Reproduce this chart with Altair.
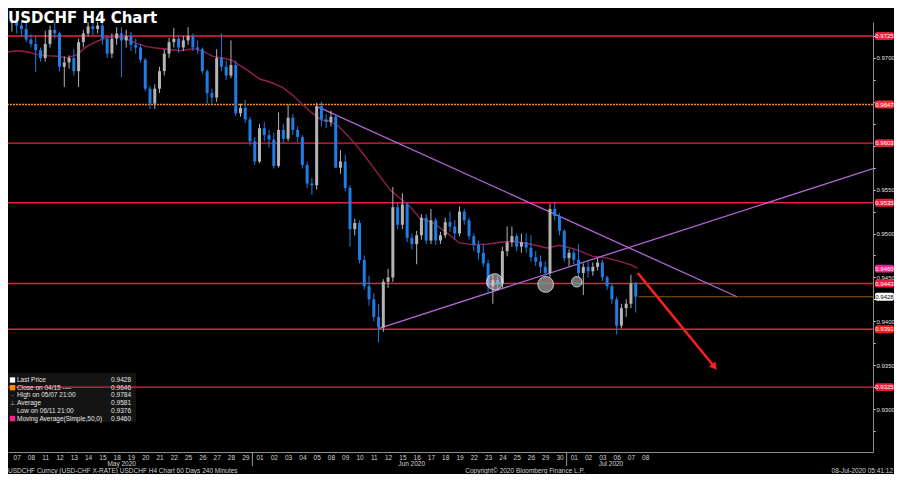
import altair as alt
import pandas as pd

# ---------------- data ----------------
day_labels = ["07", "08", "11", "12", "13", "14", "15", "18", "19", "20", "21", "22", "25", "26", "27", "28", "29",
              "01", "02", "03", "04", "05", "08", "09", "10", "11", "12", "15", "16", "17", "18", "19", "22", "23",
              "24", "25", "26", "29", "30",
              "01", "02", "03", "06", "07", "08"]
month_labels = ["May 2020", "Jun 2020", "Jul 2020"]
month_pos = [7.35, 27.65, 41.6]
month_breaks = [16.5, 38.5]

first_open = 0.9740
close = [0.9748, 0.9737, 0.9733, 0.9721, 0.9716, 0.9709, 0.9700, 0.9716, 0.9732, 0.9728, 0.9690, 0.9695,
         0.9700, 0.9685, 0.9718, 0.9728, 0.9736, 0.9733, 0.9737, 0.9722, 0.9705, 0.9722, 0.9728, 0.9720,
         0.9725, 0.9715, 0.9712, 0.9698, 0.9665, 0.9648, 0.9665, 0.9685, 0.9705, 0.9718, 0.9722, 0.9712,
         0.9720, 0.9725, 0.9712, 0.9710, 0.9685, 0.9660, 0.9655, 0.9700, 0.9690, 0.9680, 0.9692, 0.9637,
         0.9643, 0.9630, 0.9605, 0.9582, 0.9620, 0.9612, 0.9607, 0.9577, 0.9618, 0.9608, 0.9632, 0.9618,
         0.9610, 0.9578, 0.9557, 0.9555, 0.9645, 0.9630, 0.9627, 0.9633, 0.9575, 0.9582, 0.9552, 0.9505,
         0.9512, 0.9470, 0.9440, 0.9425, 0.9405, 0.9393, 0.9445, 0.9450, 0.9530, 0.9510, 0.9533, 0.9495,
         0.9488, 0.9498, 0.9518, 0.9492, 0.9515, 0.9492, 0.9498, 0.9513, 0.9508, 0.9500, 0.9525, 0.9515,
         0.9497, 0.9487, 0.9478, 0.9466, 0.9440, 0.9447, 0.9443, 0.9480, 0.9490, 0.9497, 0.9485, 0.9490,
         0.9484, 0.9473, 0.9468, 0.9462, 0.9455, 0.9528, 0.9520, 0.9503, 0.9472, 0.9478, 0.9470, 0.9455,
         0.9462, 0.9457, 0.9462, 0.9467, 0.9450, 0.9440, 0.9425, 0.9395, 0.9415, 0.9420, 0.9443, 0.9428]
high = [0.9784, 0.9755, 0.9745, 0.9740, 0.9727, 0.9725, 0.9712, 0.9731, 0.9737, 0.9745, 0.9730, 0.9702,
        0.9703, 0.9710, 0.9722, 0.9732, 0.9750, 0.9748, 0.9745, 0.9740, 0.9725, 0.9728, 0.9735, 0.9735,
        0.9732, 0.9730, 0.9722, 0.9716, 0.9700, 0.9668, 0.9670, 0.9690, 0.9710, 0.9723, 0.9734, 0.9725,
        0.9725, 0.9735, 0.9728, 0.9720, 0.9712, 0.9687, 0.9665, 0.9710, 0.9728, 0.9697, 0.9720, 0.9697,
        0.9648, 0.9652, 0.9633, 0.9610, 0.9625, 0.9627, 0.9618, 0.9615, 0.9638, 0.9625, 0.9647, 0.9636,
        0.9622, 0.9612, 0.9582, 0.9563, 0.9649, 0.9650, 0.9636, 0.9640, 0.9635, 0.9595, 0.9590, 0.9555,
        0.9517, 0.9515, 0.9475, 0.9452, 0.9432, 0.9420, 0.9448, 0.9460, 0.9553, 0.9535, 0.9546, 0.9536,
        0.9500, 0.9503, 0.9522, 0.9522, 0.9528, 0.9518, 0.9502, 0.9518, 0.9525, 0.9515, 0.9531, 0.9528,
        0.9518, 0.9500, 0.9492, 0.9488, 0.9470, 0.9453, 0.9452, 0.9485, 0.9508, 0.9508, 0.9500, 0.9500,
        0.9500, 0.9498, 0.9480, 0.9475, 0.9468, 0.9534, 0.9536, 0.9523, 0.9505, 0.9482, 0.9482, 0.9488,
        0.9466, 0.9468, 0.9467, 0.9472, 0.9470, 0.9452, 0.9443, 0.9428, 0.9420, 0.9425, 0.9453, 0.9445]
low = [0.9730, 0.9728, 0.9725, 0.9718, 0.9712, 0.9684, 0.9696, 0.9696, 0.9712, 0.9722, 0.9685, 0.9667,
       0.9688, 0.9680, 0.9667, 0.9712, 0.9725, 0.9726, 0.9728, 0.9715, 0.9700, 0.9700, 0.9715, 0.9678,
       0.9712, 0.9708, 0.9705, 0.9695, 0.9662, 0.9642, 0.9642, 0.9660, 0.9680, 0.9700, 0.9712, 0.9706,
       0.9708, 0.9715, 0.9708, 0.9705, 0.9682, 0.9648, 0.9648, 0.9650, 0.9685, 0.9675, 0.9677, 0.9634,
       0.9633, 0.9626, 0.9600, 0.9578, 0.9580, 0.9605, 0.9598, 0.9574, 0.9575, 0.9603, 0.9605, 0.9612,
       0.9604, 0.9574, 0.9552, 0.9544, 0.9550, 0.9622, 0.9620, 0.9622, 0.9575, 0.9568, 0.9548, 0.9485,
       0.9498, 0.9466, 0.9436, 0.9418, 0.9400, 0.9376, 0.9388, 0.9438, 0.9445, 0.9505, 0.9505, 0.9490,
       0.9482, 0.9465, 0.9493, 0.9488, 0.9488, 0.9487, 0.9488, 0.9495, 0.9502, 0.9493, 0.9497, 0.9510,
       0.9493, 0.9480, 0.9470, 0.9462, 0.9432, 0.9420, 0.9435, 0.9438, 0.9474, 0.9485, 0.9480, 0.9478,
       0.9478, 0.9468, 0.9463, 0.9455, 0.9450, 0.9450, 0.9515, 0.9498, 0.9468, 0.9463, 0.9465, 0.9450,
       0.9430, 0.9450, 0.9452, 0.9458, 0.9446, 0.9436, 0.9420, 0.9385, 0.9392, 0.9405, 0.9415, 0.9410]

ma_x = [-0.607, 0.083, 0.772, 1.462, 2.152, 2.841, 3.531, 4.221, 4.91, 5.6, 6.29, 6.98, 7.669, 8.359,
        9.048, 9.738, 10.428, 11.462, 12.359, 13.048, 13.738, 14.428, 15.117, 16.083, 16.979, 17.876,
        18.566, 19.255, 19.945, 20.634, 21.324, 21.807, 22.497, 23.186, 24.083, 24.772, 25.462, 26.152,
        26.841, 27.531, 28.221, 29.186, 30.29, 30.979, 31.945, 33.048, 33.876, 34.772, 35.945, 37.117,
        38.014, 39.186, 40.29, 41.255, 42.152, 43.048, 43.462]
ma_p = [0.97068, 0.97083, 0.97068, 0.97038, 0.97027, 0.97019, 0.97001, 0.97038, 0.97132, 0.97188,
        0.97233, 0.97244, 0.97218, 0.9717, 0.97132, 0.97113, 0.97102, 0.97083, 0.97106, 0.97075, 0.97019,
        0.97001, 0.9697, 0.96868, 0.96763, 0.96718, 0.96669, 0.96586, 0.96481, 0.9638, 0.96293, 0.96285,
        0.96228, 0.96115, 0.95946, 0.95796, 0.95646, 0.95495, 0.95401, 0.95307, 0.95175, 0.95119, 0.94986,
        0.94893, 0.94874, 0.94881, 0.94901, 0.94912, 0.94881, 0.94836, 0.94867, 0.94817, 0.94743, 0.94723,
        0.94686, 0.94641, 0.94603]

levels_red = [0.9725, 0.9603, 0.9535, 0.9443, 0.9391, 0.9325]
close_0415 = 0.9647
last_price = 0.9428
last_line_x = [43.53, 59.945]

tl1_x = [21.12, 50.43]
tl1_p = [0.9644, 0.9428]
tl2_x = [25.37, 59.945]
tl2_p = [0.9392, 0.9574]

circ_x = [33.46, 37.03, 39.21]
circ_p = [0.9445, 0.9442, 0.9445]

arrow_x = [43.48, 48.85]
arrow_p = [0.9455, 0.9348]

tag_values = [0.9725, 0.9647, 0.9603, 0.9535, 0.9460, 0.9443, 0.9428, 0.9391, 0.9325]
hidden_axis_labels = [0.9650, 0.9600]

legend_labels = ["Last Price", "Close on 04/15 ----", "High on 05/07 21:00", "Average",
                 "Low on 06/11 21:00", "Moving Average(Simple,50,0)"]
legend_values = ["0.9428", "0.9646", "0.9784", "0.9581", "0.9376", "0.9460"]
legend_symbols = ["", "", "\u22a4", "-", "\u22a5", ""]

title_text = "USDCHF H4 Chart"
footer_left = "USDCHF Curncy (USD-CHF X-RATE) USDCHF H4 Chart 60 Days 240 Minutes"
footer_mid = "Copyright\u00a9 2020 Bloomberg Finance L.P."
footer_right = "08-Jul-2020 05:41:12"

# ---------------- styles ----------------
UP = "#b4b4b4"
DOWN = "#1f7de6"
RED = "#ea2040"
FONT = "Liberation Sans"
tag_fill = ["#e61e3c", "#f0303a", "#e61e3c", "#e61e3c", "#f2208c", "#e61e3c", "#ffffff", "#ff1a1a", "#e61e3c"]
tag_text = ["#ffffff", "#ffffff", "#ffffff", "#ffffff", "#ffffff", "#ffffff", "#000000", "#ffffff", "#ffffff"]

W, H = 865, 430

# ---------------- tables ----------------
opens = [first_open] + close[:-1]
pos = [i // 3 + ((i % 3) - 1) / 3 for i in range(len(close))]
candles = pd.DataFrame({"x": pos, "o": opens, "c": close, "h": high, "l": low})
candles["hi"] = candles[["h", "o", "c"]].max(axis=1)
candles["lo"] = candles[["l", "o", "c"]].min(axis=1)

xscale = alt.Scale(domain=[-0.607, 59.945], nice=False, zero=False)
yscale = alt.Scale(domain=[0.92511, 0.97410], nice=False, zero=False)

label_arr = "[" + ",".join("'%s'" % s for s in day_labels) + "]"
xaxis = alt.Axis(orient="bottom", values=list(range(len(day_labels))),
                 labelExpr=label_arr + "[datum.value]", title=None, ticks=False, grid=False,
                 domainColor="#8c8c8c", labelColor="#d2d2d2", labelFont=FONT, labelFontSize=6.5,
                 labelPadding=2, labelOverlap=False, labelFlush=False, labelBound=False)
yticks = [v / 10000 for v in range(9275, 9740, 25)]
hidden_expr = " && ".join("abs(datum.value - %s) > 0.00001" % v for v in hidden_axis_labels)
yaxis = alt.Axis(orient="right", values=yticks,
                 labelExpr="(abs(round(datum.value*10000) % 50) < 1 && " + hidden_expr +
                           ") ? format(datum.value, '.4f') : ''",
                 title=None, grid=False, tickSize=2, tickColor="#e0e0e0", domainColor="#8c8c8c",
                 labelColor="#e0e0e0", labelFont=FONT, labelFontSize=6, labelPadding=1,
                 labelOverlap=False, labelFlush=False)


def X(field="x"):
    return alt.X(field + ":Q", scale=xscale, axis=xaxis)


def Y(field="p"):
    return alt.Y(field + ":Q", scale=yscale, axis=yaxis)


def one(text=""):
    return pd.DataFrame({"t": [text]})


layers = []

# legend background
layers.append(alt.Chart(one()).mark_rect(color="#141414").encode(
    x=alt.value(0), x2=alt.value(128), y=alt.value(351), y2=alt.value(400)))

# horizontal levels
layers.append(alt.Chart(pd.DataFrame({"p": levels_red})).mark_rule(color=RED, strokeWidth=1.4).encode(y=Y()))
layers.append(alt.Chart(pd.DataFrame({"p": [close_0415]})).mark_rule(
    color="#ff8a1a", strokeWidth=1.5, strokeDash=[2, 1]).encode(y=Y()))
layers.append(alt.Chart(pd.DataFrame({"x": [last_line_x[0]], "x2": [last_line_x[1]], "p": [last_price]}))
              .mark_rule(color="#8a5a12", strokeWidth=1.2).encode(x=X(), x2="x2:Q", y=Y()))

# moving average
layers.append(alt.Chart(pd.DataFrame({"x": ma_x, "p": ma_p})).mark_line(
    color="#961c55", strokeWidth=1.4, clip=True).encode(x=X(), y=Y()))

# trend lines
tl = pd.DataFrame({"x": tl1_x + tl2_x, "p": tl1_p + tl2_p, "g": ["a", "a", "b", "b"]})
layers.append(alt.Chart(tl).mark_line(color="#b466d6", strokeWidth=1.3, clip=True).encode(
    x=X(), y=Y(), detail="g:N"))

# candles
cond = alt.condition("datum.o <= datum.c", alt.value(UP), alt.value(DOWN))
layers.append(alt.Chart(candles).mark_rule(strokeWidth=1, clip=True).encode(
    x=X(), y=Y("lo"), y2="hi:Q", color=cond))
layers.append(alt.Chart(candles).mark_rule(strokeWidth=3, clip=True).encode(
    x=X(), y=Y("o"), y2="c:Q", color=cond))

# circles
circ_fill = ["#d0d0d0", "#8c8c8c", "#8c8c8c"]
circ_op = [0.55, 0.85, 0.8]
circ_size = [265, 250, 110]
for i in range(len(circ_x)):
    layers.append(alt.Chart(pd.DataFrame({"x": [circ_x[i]], "p": [circ_p[i]]})).mark_point(
        shape="circle", filled=True, fill=circ_fill[i], fillOpacity=circ_op[i], stroke="#e8e8e8",
        strokeWidth=1, strokeOpacity=0.8, size=circ_size[i]).encode(x=X(), y=Y()))

# arrow
layers.append(alt.Chart(pd.DataFrame({"x": arrow_x, "p": arrow_p})).mark_line(
    color="#ff1e1e", strokeWidth=2.6).encode(x=X(), y=Y()))
layers.append(alt.Chart(pd.DataFrame({"x": [arrow_x[1]], "p": [arrow_p[1]]})).mark_point(
    shape="triangle-up", filled=True, color="#ff1e1e", opacity=1, size=70, angle=140).encode(x=X(), y=Y()))

# price tags
tags = pd.DataFrame({"p": tag_values, "fill": tag_fill, "tc": tag_text})
tags["label"] = [f"{v:.4f}" for v in tag_values]
tag_base = alt.Chart(tags).transform_calculate(lo="datum.p - 0.00045", hi="datum.p + 0.00045")
layers.append(tag_base.mark_rect(cornerRadius=2).encode(
    x=alt.value(W + 2), x2=alt.value(W + 21), y=Y("lo"), y2="hi:Q", fill=alt.Fill("fill:N", scale=None)))
layers.append(tag_base.mark_text(align="center", baseline="middle", font=FONT, fontSize=6).encode(
    x=alt.value(W + 11.5), y=Y(), text="label:N", color=alt.Color("tc:N", scale=None)))

# month labels and separators
layers.append(alt.Chart(pd.DataFrame({"x": month_pos, "t": month_labels})).mark_text(
    font=FONT, fontSize=6.5, color="#d2d2d2", baseline="middle", align="center").encode(
    x=X(), y=alt.value(H + 11.5), text="t:N"))
layers.append(alt.Chart(pd.DataFrame({"x": month_breaks})).mark_rule(color="#9a9a9a", strokeWidth=1).encode(
    x=X(), y=alt.value(H), y2=alt.value(H + 14)))

# title
layers.append(alt.Chart(one(title_text)).mark_text(
    font="DejaVu Sans", fontSize=15, fontWeight="bold", color="#ffffff", align="left",
    baseline="alphabetic").encode(x=alt.value(0), y=alt.value(0.5), text="t:N"))

# legend
row0 = 358
lh = 7.7
layers.append(alt.Chart(one("\n".join(legend_labels))).mark_text(
    font=FONT, fontSize=6.5, color="#e6e6e6", align="left", baseline="middle", lineBreak="\n",
    lineHeight=lh).encode(x=alt.value(9), y=alt.value(row0), text="t:N"))
layers.append(alt.Chart(one("\n".join(legend_values))).mark_text(
    font=FONT, fontSize=6.5, color="#e6e6e6", align="right", baseline="middle", lineBreak="\n",
    lineHeight=lh).encode(x=alt.value(123), y=alt.value(row0), text="t:N"))
layers.append(alt.Chart(one("\n".join(legend_symbols))).mark_text(
    font="DejaVu Sans", fontSize=6.5, color="#a0a0a0", align="center", baseline="middle", lineBreak="\n",
    lineHeight=lh).encode(x=alt.value(4.5), y=alt.value(row0), text="t:N"))
for idx, col in [(0, "#ffffff"), (1, "#ff8c00"), (5, "#ff1f8f")]:
    layers.append(alt.Chart(one(legend_labels[idx])).mark_square(
        color=col, opacity=1, size=28).encode(x=alt.value(4.5), y=alt.value(row0 + idx * lh)))

# footer
FY = H + 18.5
layers.append(alt.Chart(one(footer_left)).mark_text(
    font=FONT, fontSize=6.5, color="#cfcfcf", align="left", baseline="middle").encode(
    x=alt.value(0), y=alt.value(FY), text="t:N"))
layers.append(alt.Chart(one(footer_mid)).mark_text(
    font=FONT, fontSize=6.5, color="#cfcfcf", align="center", baseline="middle").encode(
    x=alt.value(517), y=alt.value(FY), text="t:N"))
layers.append(alt.Chart(one(footer_right)).mark_text(
    font=FONT, fontSize=6.5, color="#cfcfcf", align="right", baseline="middle").encode(
    x=alt.value(W + 20), y=alt.value(FY), text="t:N"))

chart = alt.layer(*layers).properties(
    width=W, height=H,
    autosize=alt.AutoSizeParams(type="none"),
    padding={"left": 0, "top": 14, "right": 21, "bottom": 22},
    background="#000000",
).configure_view(stroke=None)

chart.save("out.html", embed_options={"renderer": "svg", "actions": False})
